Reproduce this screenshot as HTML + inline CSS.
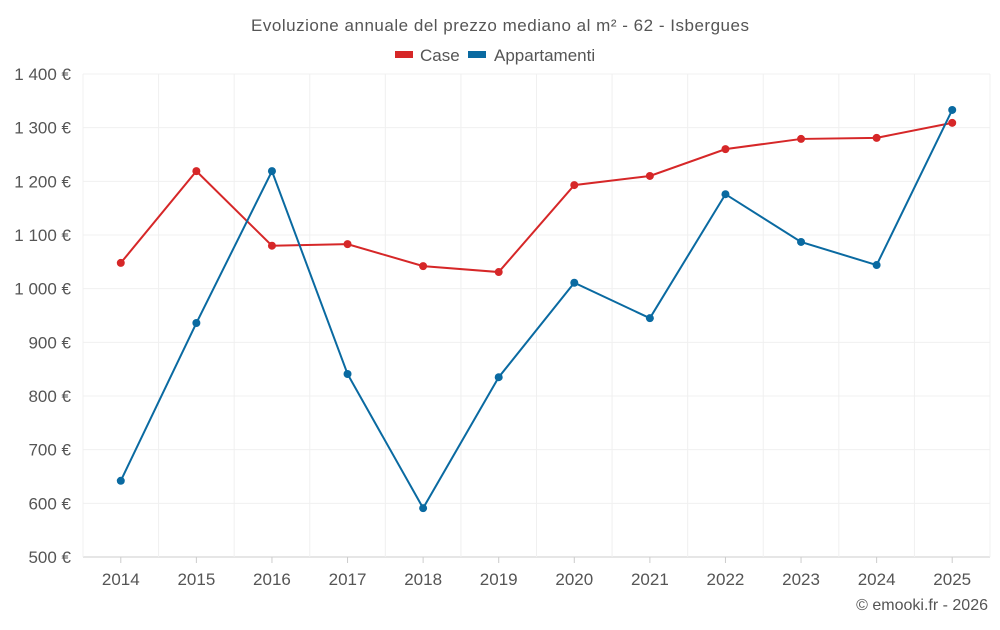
<!DOCTYPE html>
<html><head><meta charset="utf-8"><style>
body{margin:0;background:#fff;font-family:"Liberation Sans",sans-serif;}
svg text{font-family:"Liberation Sans",sans-serif;fill:#555;}
</style></head><body>
<svg id="c" width="1000" height="625">
<text x="500" y="31" text-anchor="middle" font-size="17" textLength="498">Evoluzione annuale del prezzo mediano al m² - 62 - Isbergues</text>
<g>
<g><rect x="395" y="51" width="18" height="7" fill="#d62728"/><text x="420" y="61" font-size="17">Case</text></g>
<g><rect x="468" y="51" width="18" height="7" fill="#0a6aa1"/><text x="494" y="61" font-size="17">Appartamenti</text></g>
</g>
<g id="grid"></g><g id="axes"></g><g id="series"></g>
<text x="988" y="610" text-anchor="end" font-size="16">© emooki.fr - 2026</text>
</svg>
<script>
const years=[2014,2015,2016,2017,2018,2019,2020,2021,2022,2023,2024,2025];
const caseValues=[1048,1219,1080,1083,1042,1031,1193,1210,1260,1279,1281,1309];
const apptValues=[642,936,1219,841,591,835,1011,945,1176,1087,1044,1333];
const yTicks=[500,600,700,800,900,1000,1100,1200,1300,1400];
const yTickLabels=["500 €","600 €","700 €","800 €","900 €","1 000 €","1 100 €","1 200 €","1 300 €","1 400 €"];
const L=83,R=990,T=74,B=557,yMin=500,yMax=1400;
const NS="http://www.w3.org/2000/svg";
const bw=(R-L)/years.length;
function x(i){return L+bw*(i+0.5);}
function y(v){return B-(v-yMin)/(yMax-yMin)*(B-T);}
function mk(tag,attrs,parent){const e=document.createElementNS(NS,tag);for(const k in attrs)e.setAttribute(k,attrs[k]);document.getElementById(parent).appendChild(e);return e;}
yTicks.forEach((t,i)=>{
 const g=mk('line',{x1:L,x2:R,y1:y(t),y2:y(t),stroke:i==0?'#ccc':'#f0f0f0'},'grid');
 
 
 const tx=mk('text',{x:71,y:y(t)+6,'text-anchor':'end','font-size':'17'},'axes');tx.textContent=yTickLabels[i];
 
 
});
for(let i=0;i<=years.length;i++){
 const g=mk('line',{x1:L+bw*i,x2:L+bw*i,y1:T,y2:B,stroke:'#f0f0f0'},'grid');
 
 
}
years.forEach((yr,i)=>{
 const t=mk('line',{x1:x(i),x2:x(i),y1:B,y2:B+6,stroke:'#ccc'},'axes');
 
 
 const tx=mk('text',{x:x(i),y:585,'text-anchor':'middle','font-size':'17'},'axes');tx.textContent=yr;
 
 
});
function series(vals,color,name){
 const p=mk('polyline',{points:vals.map((v,i)=>x(i)+','+y(v)).join(' '),fill:'none',stroke:color,'stroke-width':2},'series');
 
 
 vals.forEach((v,i)=>{
  const c=mk('circle',{cx:x(i),cy:y(v),r:4,fill:color},'series');
  
  
 });
}
series(caseValues,'#d62728','case');
series(apptValues,'#0a6aa1','appartamenti');
</script>
</body></html>
